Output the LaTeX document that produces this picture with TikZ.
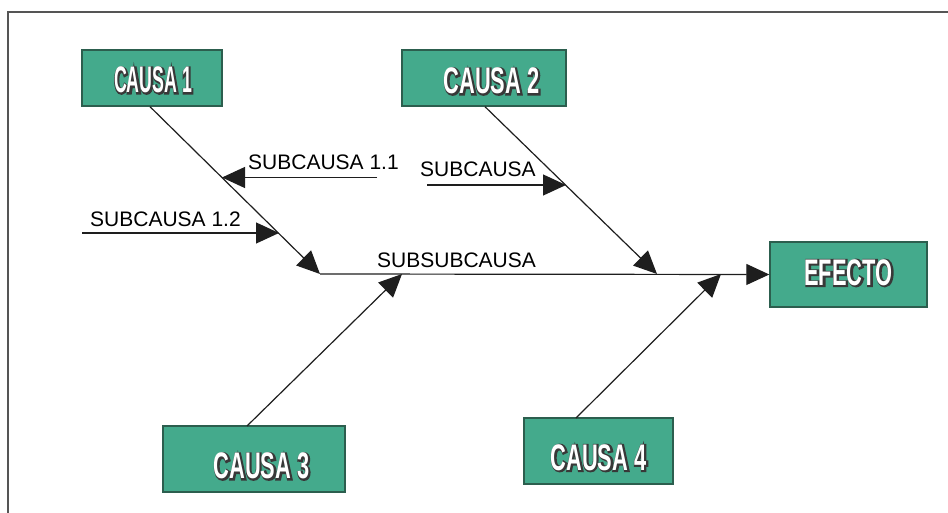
\documentclass[tikz,border=0pt]{standalone}
\usepackage{fontspec}
\setmainfont{Liberation Sans}
\newfontfamily\condA[FakeStretch=0.59]{Liberation Sans Bold}
\newfontfamily\condB[FakeStretch=0.48]{Liberation Sans Bold}
\usetikzlibrary{arrows.meta}
\definecolor{boxfill}{HTML}{44AA8C}
\definecolor{boxedge}{HTML}{2C5E4E}
\definecolor{ocol}{HTML}{383838}
\definecolor{framec}{HTML}{555555}
\definecolor{linec}{HTML}{1E1E1E}
% outlined box lettering: one stroked dark copy (slightly offset, giving the
% shadow) under one white copy
\newcommand\outtext[2]{%
  \rlap{\kern0.7pt\raisebox{-0.7pt}{\textcolor{ocol}{%
    \special{pdf:literal direct 2 Tr 2.6 w}%
    #1\fontsize{37}{37}\selectfont #2%
    \special{pdf:literal direct 0 Tr 1 w}}}}%
  \textcolor{white}{#1\fontsize{37}{37}\selectfont #2}}
\tikzset{
  causebox/.style={draw=boxedge, line width=1.4pt, fill=boxfill, inner sep=0pt,
    text depth=0pt},
  sublabel/.style={anchor=base west, inner sep=0pt, font=\fontsize{21}{21}\selectfont},
  bone/.style={draw=linec, line width=1.2pt,
    -{Triangle[length=23pt,width=21pt]}},
}
\begin{document}
\begin{tikzpicture}[x=1pt,y=-1pt]
\useasboundingbox (0,0) rectangle (948,513);
\draw[framec, line width=2pt] (8,514) -- (8,12) -- (949,12);

% boxes
\node[causebox, minimum width=140pt, minimum height=56pt, text height=29pt] (c1) at (152,78)
  {\hspace*{2pt}\outtext{\condB}{CAUSA 1}};
\node[causebox, minimum width=164pt, minimum height=56pt, text height=31pt] (c2) at (484,78)
  {\hspace*{15pt}\outtext{\condA}{CAUSA 2}};
\node[causebox, minimum width=182pt, minimum height=66pt, text height=39pt] (c3) at (254,459)
  {\hspace*{15pt}\outtext{\condA}{CAUSA 3}};
\node[causebox, minimum width=149pt, minimum height=66pt, text height=38pt] (c4) at (598.5,451)
  {\outtext{\condA}{CAUSA 4}};
\node[causebox, minimum width=157pt, minimum height=65pt, text height=21pt] (ef) at (848.5,274.5)
  {\outtext{\condA}{EFECTO}};

% tips on the spine
\coordinate (t1) at (320,274);
\coordinate (t2) at (657,274);
\coordinate (t3) at (402,274);
\coordinate (t4) at (721,274);
\coordinate (c3s) at (247,426);
\coordinate (c4s) at (576,418);

% spine
\draw[bone] (t1) -- (ef.west);

% cause bones
\draw[bone] ([xshift=-2pt]c1.south) -- (t1);
\draw[bone] ([xshift=1pt]c2.south) -- (t2);
\draw[bone] (c3s) -- (t3);
\draw[bone] (c4s) -- (t4);

% sub causes
\coordinate (s11a) at (377,177.5);
\coordinate (s11b) at (222,177.5);
\coordinate (s12a) at (82,233);
\coordinate (s12b) at (279,233);
\coordinate (s2a) at (427,185);
\coordinate (s2b) at (566,185);
\draw[bone] (s11a) -- (s11b);
\draw[bone] (s12a) -- (s12b);
\draw[bone] (s2a) -- (s2b);

% labels
\node[sublabel] (l11) at (248,170) {SUBCAUSA 1.1};
\node[sublabel] (l2) at (420,177) {SUBCAUSA};
\node[sublabel] (l12) at (90,227) {SUBCAUSA 1.2};
\node[sublabel] (lss) at (377,268) {SUBSUBCAUSA};
\end{tikzpicture}
\end{document}
